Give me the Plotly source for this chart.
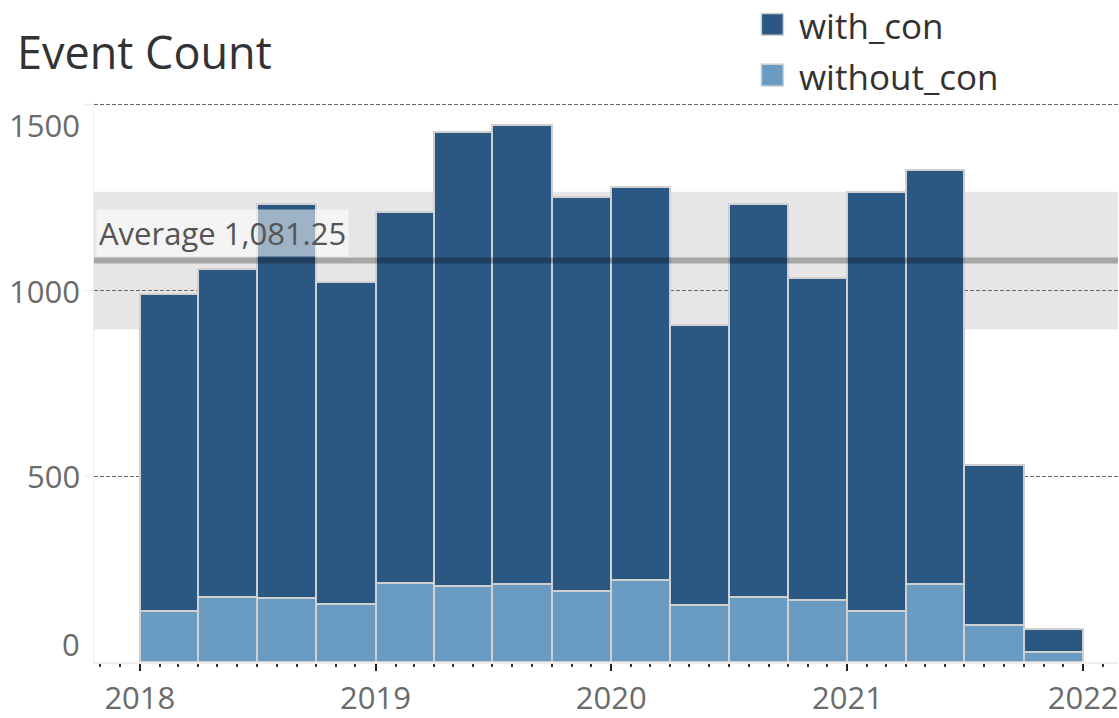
import plotly.graph_objects as go
import pandas as pd
import numpy as np

# ---------------- data ----------------
quarters = ["2018-01-01", "2018-04-01", "2018-07-01", "2018-10-01",
            "2019-01-01", "2019-04-01", "2019-07-01", "2019-10-01",
            "2020-01-01", "2020-04-01", "2020-07-01", "2020-10-01",
            "2021-01-01", "2021-04-01", "2021-07-01", "2021-10-01"]
totals = [990, 1057, 1232, 1024, 1213, 1426, 1445, 1251,
          1279, 908, 1232, 1035, 1265, 1325, 530, 88]
without_con = [138, 176, 172, 157, 214, 205, 210, 190,
               220, 153, 176, 167, 138, 210, 99, 27]
with_con = [t - w for t, w in zip(totals, without_con)]
year_ticks = ["2018-01-01", "2019-01-01", "2020-01-01", "2021-01-01", "2022-01-01"]
year_labels = ["2018", "2019", "2020", "2021", "2022"]
y_ticks = [0, 500, 1000, 1500]
series_names = ["with_con", "without_con"]

# ---------------- styling ----------------
FONT = "Open Sans"
DARK = "#2b5783"
LIGHT = "#6a9bc3"
EDGE = "#d0d0d0"

starts = pd.to_datetime(quarters)
ends = list(starts[1:]) + [starts[-1] + pd.DateOffset(months=3)]
widths = [(e - s).total_seconds() * 1000 for s, e in zip(starts, ends)]

avg = float(np.mean(totals))
n = len(totals)
sd = float(np.std(totals, ddof=1))
t_crit = 2.131  # 95% two-sided, df=15
ci_lo, ci_hi = avg - t_crit * sd / np.sqrt(n), avg + t_crit * sd / np.sqrt(n)

fig = go.Figure()
fig.add_trace(go.Bar(x=quarters, y=without_con, width=widths, offset=0,
                     name=series_names[1], marker=dict(color=LIGHT, line=dict(color=EDGE, width=2)),
                     showlegend=False))
fig.add_trace(go.Bar(x=quarters, y=with_con, width=widths, offset=0,
                     name=series_names[0], marker=dict(color=DARK, line=dict(color=EDGE, width=2)),
                     showlegend=False))

# confidence band (below grid) and average line (on top)
fig.add_shape(type="rect", xref="paper", x0=0, x1=1, yref="y", y0=ci_lo, y1=ci_hi,
              fillcolor="#e6e6e6", line_width=0, layer="below")
fig.add_shape(type="line", xref="paper", x0=0, x1=1, yref="y", y0=avg, y1=avg,
              line=dict(color="rgba(0,0,0,0.28)", width=6), layer="above")
fig.add_annotation(xref="paper", x=0.002, yref="y", y=avg, xanchor="left", yanchor="bottom",
                   yshift=3, text=f"Average {avg:,.2f}", showarrow=False,
                   font=dict(family=FONT, size=31, color="#555555"),
                   bgcolor="rgba(255,255,255,0.55)", borderpad=2)

# y tick labels (edge labels kept inside the pane)
for v in y_ticks:
    anchor, shift = "middle", 0
    if v == y_ticks[0]:
        anchor, shift = "bottom", -5
    elif v == y_ticks[-1]:
        anchor, shift = "top", 3
    fig.add_annotation(xref="paper", x=0, yref="y", y=v, xanchor="right", yanchor=anchor,
                       xshift=-12, yshift=shift, text=str(v), showarrow=False,
                       font=dict(family=FONT, size=31, color="#6b6b6b"))

# legend drawn manually
legend_colors = [DARK, LIGHT]
for i, (nm, col) in enumerate(zip(series_names, legend_colors)):
    yc = 1.1385 - i * 0.0905
    fig.add_shape(type="rect", xref="paper", yref="paper",
                  x0=0.6517, x1=0.6732, y0=yc - 0.0195, y1=yc + 0.0195,
                  fillcolor=col, line=dict(color="#d0d0d0", width=1.5))
    fig.add_annotation(xref="paper", yref="paper", x=0.6868, y=yc, xanchor="left", yanchor="middle",
                       yshift=-1, text=nm, showarrow=False,
                       font=dict(family=FONT, size=35, color="#333333"))

fig.update_layout(
    width=1119, height=718,
    margin=dict(l=94, r=0, t=102, b=53),
    paper_bgcolor="white", plot_bgcolor="white",
    barmode="stack", bargap=0,
    title=dict(text="Event Count", x=0.0152, xanchor="left", y=0.926, yanchor="middle",
               font=dict(family=FONT, size=45, color="#333333")),
    font=dict(family=FONT),
    showlegend=False,
)
fig.update_xaxes(
    type="date", range=["2017-10-22", "2022-02-24"],
    tickvals=year_ticks, ticktext=year_labels,
    ticks="outside", ticklen=7, tickwidth=2, tickcolor="#222222",
    tickfont=dict(family=FONT, size=31, color="#6b6b6b"),
    ticklabelstandoff=1, ticklabeloverflow="allow",
    minor=dict(dtick="M1", tick0="2018-01-01", ticks="outside", ticklen=3, tickwidth=2,
               tickcolor="#333333", showgrid=False),
    showgrid=False, showline=True, linecolor="#eeeeee", linewidth=2, zeroline=False,
)
fig.update_yaxes(
    range=[0, 1508], tickvals=y_ticks[1:], showticklabels=False,
    showgrid=True, gridcolor="#666666", gridwidth=1, griddash="4px,2px",
    ticks="outside", ticklen=10, tickcolor="#eeeeee",
    showline=True, linecolor="#f0f0f0", linewidth=1, zeroline=False,
)

fig.write_html("out.html", config={"displayModeBar": False},
               post_script="document.body.style.margin='0';document.body.style.overflow='hidden';")
